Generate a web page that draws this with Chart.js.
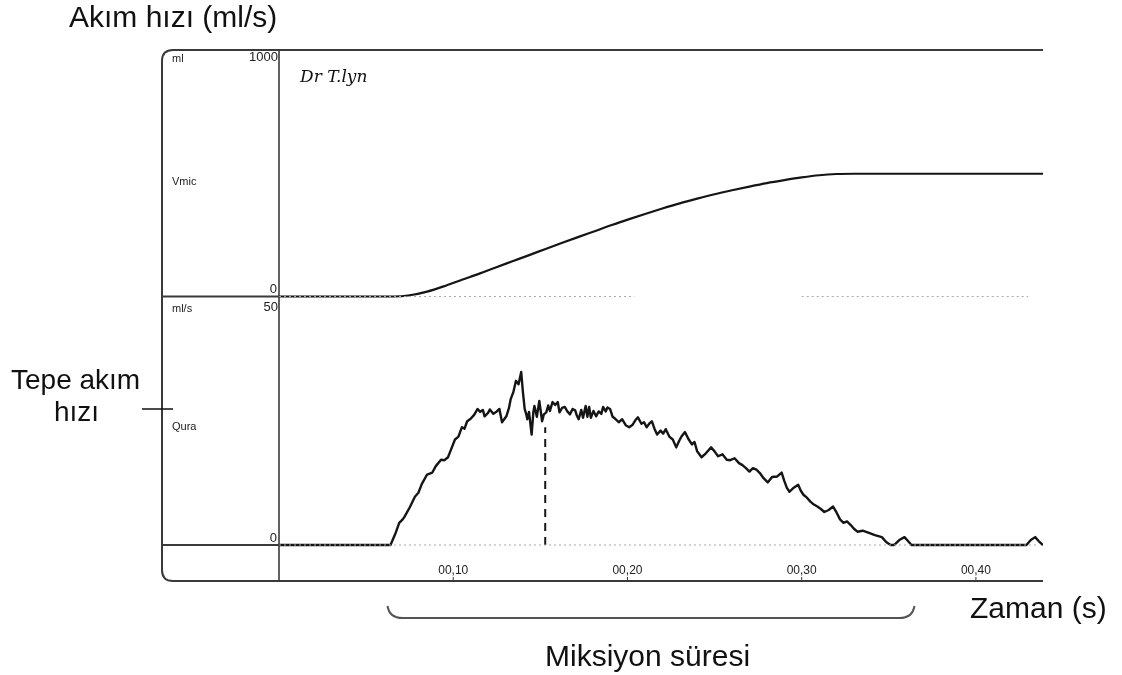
<!DOCTYPE html>
<html>
<head>
<meta charset="utf-8">
<script src="https://cdn.jsdelivr.net/npm/chart.js@4/dist/chart.umd.min.js"></script>
<style>
  body { margin: 0; background: #fff; }
  #wrap { position: relative; width: 1122px; height: 675px; }
  canvas { position: absolute; left: 0; top: 0; }
  .lbl { position: absolute; font-family: "Liberation Sans", Arial, sans-serif; color: #111; line-height: 1; white-space: nowrap; }
</style>
</head>
<body>
<div id="wrap">
  <canvas id="uroChart" width="1122" height="675"></canvas>
  <div class="lbl" style="left:69px; top:2px; font-size:30px;">Akım hızı (ml/s)</div>
  <div class="lbl" style="left:11px; top:366px; font-size:28px;">Tepe akım</div>
  <div class="lbl" style="left:54px; top:398px; font-size:28px;">hızı</div>
  <div class="lbl" style="left:970px; top:593px; font-size:30px;">Zaman (s)</div>
  <div class="lbl" style="left:545px; top:641px; font-size:30px;">Miksiyon süresi</div>
</div>
<script>
// time (s) and flow rate (ml/s)
const flowTime = [0, 6.4, 6.7, 6.9, 7.1, 7.2, 7.5, 7.8, 8.0, 8.2,
                  8.5, 8.8, 9.0, 9.3, 9.5, 9.7, 9.9, 10.1, 10.3, 10.5,
                  10.65, 10.8, 11.0, 11.2, 11.4, 11.55, 11.7, 11.8, 12.0, 12.1,
                  12.3, 12.5, 12.65, 12.8, 13.05, 13.2, 13.3, 13.45, 13.6, 13.75,
                  13.9, 14.0, 14.1, 14.2, 14.25, 14.35, 14.5, 14.6, 14.66, 14.8,
                  14.94, 15.02, 15.1, 15.2, 15.34, 15.45, 15.55, 15.7, 15.85, 16.0,
                  16.1, 16.25, 16.4, 16.55, 16.7, 16.85, 17.0, 17.1, 17.2, 17.35,
                  17.45, 17.6, 17.7, 17.8, 17.9, 18.05, 18.2, 18.35, 18.5, 18.6,
                  18.75, 18.85, 19.0, 19.15, 19.3, 19.5, 19.7, 19.9, 20.1, 20.3,
                  20.45, 20.6, 20.8, 20.95, 21.1, 21.25, 21.4, 21.55, 21.7, 21.9,
                  22.05, 22.2, 22.4, 22.6, 22.8, 22.95, 23.1, 23.3, 23.5, 23.7,
                  23.85, 24.0, 24.25, 24.5, 24.8, 25.0, 25.2, 25.45, 25.7, 25.9,
                  26.15, 26.4, 26.6, 26.8, 27.0, 27.2, 27.4, 27.6, 27.8, 28.05,
                  28.3, 28.6, 28.85, 29.0, 29.15, 29.3, 29.5, 29.8, 29.95, 30.1,
                  30.3, 30.5, 30.7, 30.9, 31.1, 31.3, 31.55, 31.8, 32.0, 32.2,
                  32.4, 32.6, 32.8, 33.0, 33.2, 33.5, 33.9, 34.2, 34.6, 34.85,
                  35.1, 35.3, 35.6, 35.9, 36.1, 36.3, 42.9, 43.15, 43.4, 43.6, 43.85];
const flowRate = [0, 0, 2.5, 4.5, 5.2, 5.7, 7.6, 9.8, 10.6, 12.4,
                  14.3, 14.7, 16.0, 17.3, 17.2, 17.8, 19.6, 21.4, 22.0, 23.9,
                  23.6, 25.1, 25.6, 26.4, 27.6, 27.0, 27.4, 26.1, 26.8, 27.5,
                  26.6, 27.1, 27.6, 24.9, 26.1, 27.8, 29.6, 31.0, 33.3, 32.6,
                  35.1, 31.0, 27.6, 26.4, 25.5, 27.0, 22.4, 27.0, 28.2, 26.0,
                  29.2, 27.2, 25.1, 26.5, 26.9, 28.3, 27.2, 29.0, 28.4, 29.0,
                  26.9, 27.8, 28.0, 27.1, 26.5, 27.6, 27.3, 26.2, 25.5, 27.4,
                  25.8, 28.2, 26.0, 28.0, 25.8, 27.2, 26.1, 27.1, 26.6, 28.0,
                  27.1, 27.9, 27.6, 26.0, 25.6, 24.9, 25.5, 24.3, 23.9, 24.4,
                  25.3, 25.9, 24.6, 24.9, 23.9, 24.6, 25.1, 23.6, 22.4, 23.2,
                  22.6, 23.5, 22.0, 21.4, 19.8, 21.0, 22.0, 22.9, 21.5, 20.4,
                  20.9, 19.0, 17.8, 18.6, 19.8, 19.0, 18.0, 18.4, 17.3, 17.2,
                  17.6, 16.6, 16.2, 15.6, 14.9, 15.6, 15.3, 14.6, 13.6, 12.7,
                  13.8, 13.9, 14.7, 13.0, 11.6, 10.8, 11.5, 12.2, 11.0, 10.2,
                  9.6, 8.8, 8.2, 7.8, 7.3, 6.7, 7.1, 7.8, 6.6, 5.2,
                  4.5, 4.8, 4.1, 3.3, 2.7, 2.9, 2.4, 2.0, 1.6, 0.6,
                  0, 0, 1.0, 1.6, 0.8, 0, 0, 1.0, 1.6, 0.8, 0];

// time (s) and voided volume (ml)
const volTime = [0, 6.6, 7.5, 8.5, 9.6, 10.5, 11.5, 12.4, 13.4, 14.4, 15.3, 16.3, 17.2, 18.2, 19.1, 20.1, 21.1, 22.0, 23.0, 24.0,
                 25.0, 26.0, 27.0, 28.0, 29.0, 30.0, 31.0, 32.0, 33.0, 43.85];
const volValue = [0, 0, 5, 20, 45, 68, 93, 117, 143, 169, 193, 219, 242, 267, 290, 314, 337, 357, 378, 397,
                  415, 431, 446, 460, 472, 483, 492, 497, 498, 498];

// peak flow marker (dashed)
const peakTime = 15.28;
const peakMarkTop = 23.9;

const timeTicks = [10, 20, 30, 40];
const timeTickLabels = ['00,10', '00,20', '00,30', '00,40'];
const mixStart = 6.4, mixEnd = 36.3;

const pts = (xs, ys) => xs.map((x, i) => ({ x: x, y: ys[i] }));

const ink = '#151515';
const frameCol = '#3a3a3a';

const paperPlugin = {
  id: 'paper',
  beforeDatasetsDraw(chart) {
    const ctx = chart.ctx;
    const a = chart.chartArea;
    const x = chart.scales.x, yV = chart.scales.yV, yF = chart.scales.yF;
    const left = 162, r = 11;
    ctx.save();
    // outer frame, open on the right
    ctx.strokeStyle = frameCol;
    ctx.lineWidth = 2;
    ctx.beginPath();
    ctx.moveTo(a.right, a.top);
    ctx.lineTo(left + r, a.top);
    ctx.quadraticCurveTo(left, a.top, left, a.top + r);
    ctx.lineTo(left, a.bottom - r);
    ctx.quadraticCurveTo(left, a.bottom, left + r, a.bottom);
    ctx.lineTo(a.right, a.bottom);
    ctx.stroke();
    // panel dividers in label column
    ctx.lineWidth = 1.8;
    ctx.beginPath();
    ctx.moveTo(left, yV.getPixelForValue(0));
    ctx.lineTo(a.left, yV.getPixelForValue(0));
    ctx.moveTo(left, yF.getPixelForValue(0));
    ctx.lineTo(a.left, yF.getPixelForValue(0));
    ctx.stroke();
    // time origin line
    ctx.lineWidth = 1.6;
    ctx.beginPath();
    ctx.moveTo(a.left, a.top);
    ctx.lineTo(a.left, a.bottom);
    ctx.stroke();
    // time ticks
    ctx.lineWidth = 1;
    ctx.beginPath();
    timeTicks.forEach(t => {
      const px = x.getPixelForValue(t);
      ctx.moveTo(px, a.bottom);
      ctx.lineTo(px, a.bottom - 4);
    });
    ctx.stroke();

    ctx.fillStyle = '#222';
    ctx.font = '12px "Liberation Sans", Arial, sans-serif';
    ctx.textAlign = 'center';
    timeTicks.forEach((t, i) => {
      ctx.fillText(timeTickLabels[i], x.getPixelForValue(t), a.bottom - 7);
    });

    // scale labels in left column
    ctx.font = '11px "Liberation Sans", Arial, sans-serif';
    ctx.textAlign = 'left';
    ctx.fillText('ml', 172, yV.getPixelForValue(1000) + 12);
    ctx.fillText('Vmic', 172, 185);
    ctx.fillText('ml/s', 172, yF.getPixelForValue(50) + 14);
    ctx.fillText('Qura', 172, 430);
    ctx.font = '13px "Liberation Sans", Arial, sans-serif';
    ctx.textAlign = 'right';
    ctx.fillText('1000', a.left - 1, yV.getPixelForValue(1000) + 11);
    ctx.fillText('0', a.left - 2, yV.getPixelForValue(0) - 4);
    ctx.fillText('50', a.left - 1, yF.getPixelForValue(50) + 13);
    ctx.fillText('0', a.left - 2, yF.getPixelForValue(0) - 3);

    // handwritten signature
    ctx.font = 'italic 17px "DejaVu Serif", serif';
    ctx.textAlign = 'left';
    ctx.fillStyle = '#111';
    ctx.fillText('Dr T.lyn', 300, 82);

    // pointer for peak flow label
    ctx.strokeStyle = '#111';
    ctx.lineWidth = 1.5;
    ctx.beginPath();
    ctx.moveTo(142, 409);
    ctx.lineTo(173, 409);
    ctx.stroke();

    // brace for voiding time
    const bx0 = x.getPixelForValue(mixStart), bx1 = x.getPixelForValue(mixEnd);
    ctx.strokeStyle = '#555';
    ctx.lineWidth = 2;
    ctx.beginPath();
    ctx.moveTo(bx0 - 3, 606);
    ctx.quadraticCurveTo(bx0 - 1, 618, bx0 + 12, 618);
    ctx.lineTo(bx1 - 12, 618);
    ctx.quadraticCurveTo(bx1 + 1, 618, bx1 + 3, 606);
    ctx.stroke();
    ctx.restore();
  }
};

new Chart(document.getElementById('uroChart'), {
  type: 'line',
  data: {
    datasets: [
      { data: pts([0, 20.4], [0, 0]), yAxisID: 'yV', borderColor: '#aaa', borderWidth: 1, borderDash: [2, 3], pointRadius: 0 },
      { data: pts([30, 43], [0, 0]), yAxisID: 'yV', borderColor: '#aaa', borderWidth: 1, borderDash: [2, 3], pointRadius: 0 },
      { data: pts([0, 43.5], [0, 0]), yAxisID: 'yF', borderColor: '#aaa', borderWidth: 1, borderDash: [2, 3], pointRadius: 0 },
      { label: 'Vmic', data: pts(volTime, volValue), yAxisID: 'yV', borderColor: ink, borderWidth: 2.2,
        pointRadius: 0, cubicInterpolationMode: 'monotone' },
      { label: 'Qura', data: pts(flowTime, flowRate), yAxisID: 'yF', borderColor: ink, borderWidth: 2.4,
        borderJoinStyle: 'round', pointRadius: 0, tension: 0 },
      { label: 'Qmax', data: pts([peakTime, peakTime], [0, peakMarkTop]), yAxisID: 'yF', borderColor: ink,
        borderWidth: 2, borderDash: [8, 6], pointRadius: 0 }
    ]
  },
  options: {
    responsive: false,
    animation: false,
    devicePixelRatio: 1,
    layout: { padding: { left: 279, right: 79, top: 50, bottom: 94 } },
    plugins: { legend: { display: false }, tooltip: { enabled: false } },
    scales: {
      x: { type: 'linear', min: 0, max: 43.85, display: false },
      yV: { type: 'linear', min: -1154, max: 1000, display: false },
      yF: { type: 'linear', min: -7.3, max: 100.4, display: false }
    }
  },
  plugins: [paperPlugin]
});
</script>
</body>
</html>
